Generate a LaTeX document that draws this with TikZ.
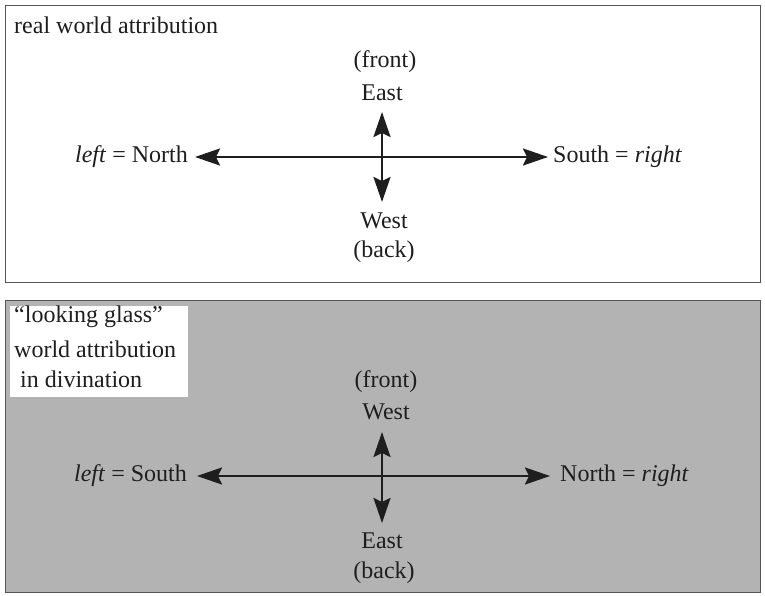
\documentclass[tikz,border=0pt]{standalone}
\usepackage{fontspec}
\setmainfont{Liberation Serif}
\usetikzlibrary{arrows.meta}
\definecolor{panelgray}{HTML}{B3B3B3}
\definecolor{edgegray}{HTML}{555555}
\definecolor{ink}{HTML}{1E1E1E}
\tikzset{
  panel/.style={draw=edgegray, line width=1pt},
  lbl/.style={inner sep=0pt, text=ink, font=\fontsize{24}{31}\selectfont},
  dirarrow/.style={-{Stealth[length=25pt,width=17pt,inset=4pt]}, line width=2.2pt, draw=ink},
}
\begin{document}
\begin{tikzpicture}[x=1pt,y=-1pt]
\useasboundingbox (0,0) rectangle (765,596);
% top panel
\draw[panel, fill=white] (5,6) rectangle (760,282);
\node[lbl, anchor=west] (t1) at (14,25) {real world attribution};
\coordinate (c1) at (382,157);
\coordinate (l1) at (195,157);
\coordinate (r1) at (548,157);
\coordinate (u1) at (382,112);
\coordinate (d1) at (382,202);
\draw[dirarrow] (c1) -- (l1);
\draw[dirarrow] (c1) -- (r1);
\draw[dirarrow] (c1) -- (u1);
\draw[dirarrow] (c1) -- (d1);
\node[lbl] (f1) at (385,62) {(front)};
\node[lbl] (e1) at (382,93) {East};
\node[lbl] (w1) at (384,221) {West};
\node[lbl] (b1) at (384,252) {(back)};
\node[lbl, anchor=east] (ln1) at (188,157) {\textit{left} = North};
\node[lbl, anchor=west] (rs1) at (553,157) {South = \textit{right}};
% bottom panel
\draw[panel, fill=panelgray] (5,300) rectangle (760,592);
\fill[white] (10,306) rectangle (188,397);
\node[lbl, anchor=west] (g1) at (14,317) {``looking glass''};
\node[lbl, anchor=west] (g2) at (14,349) {world attribution};
\node[lbl, anchor=west] (g3) at (14,379) {\ in divination};
\coordinate (c2) at (382,476);
\coordinate (l2) at (197,476);
\coordinate (r2) at (550,476);
\coordinate (u2) at (382,432);
\coordinate (d2) at (382,523);
\draw[dirarrow] (c2) -- (l2);
\draw[dirarrow] (c2) -- (r2);
\draw[dirarrow] (c2) -- (u2);
\draw[dirarrow] (c2) -- (d2);
\node[lbl] (f2) at (386,382) {(front)};
\node[lbl] (w2) at (386,412) {West};
\node[lbl] (e2) at (382,541) {East};
\node[lbl] (b2) at (384,573) {(back)};
\node[lbl, anchor=east] (ls2) at (187,476) {\textit{left} = South};
\node[lbl, anchor=west] (rn2) at (560,476) {North = \textit{right}};
\end{tikzpicture}
\end{document}
